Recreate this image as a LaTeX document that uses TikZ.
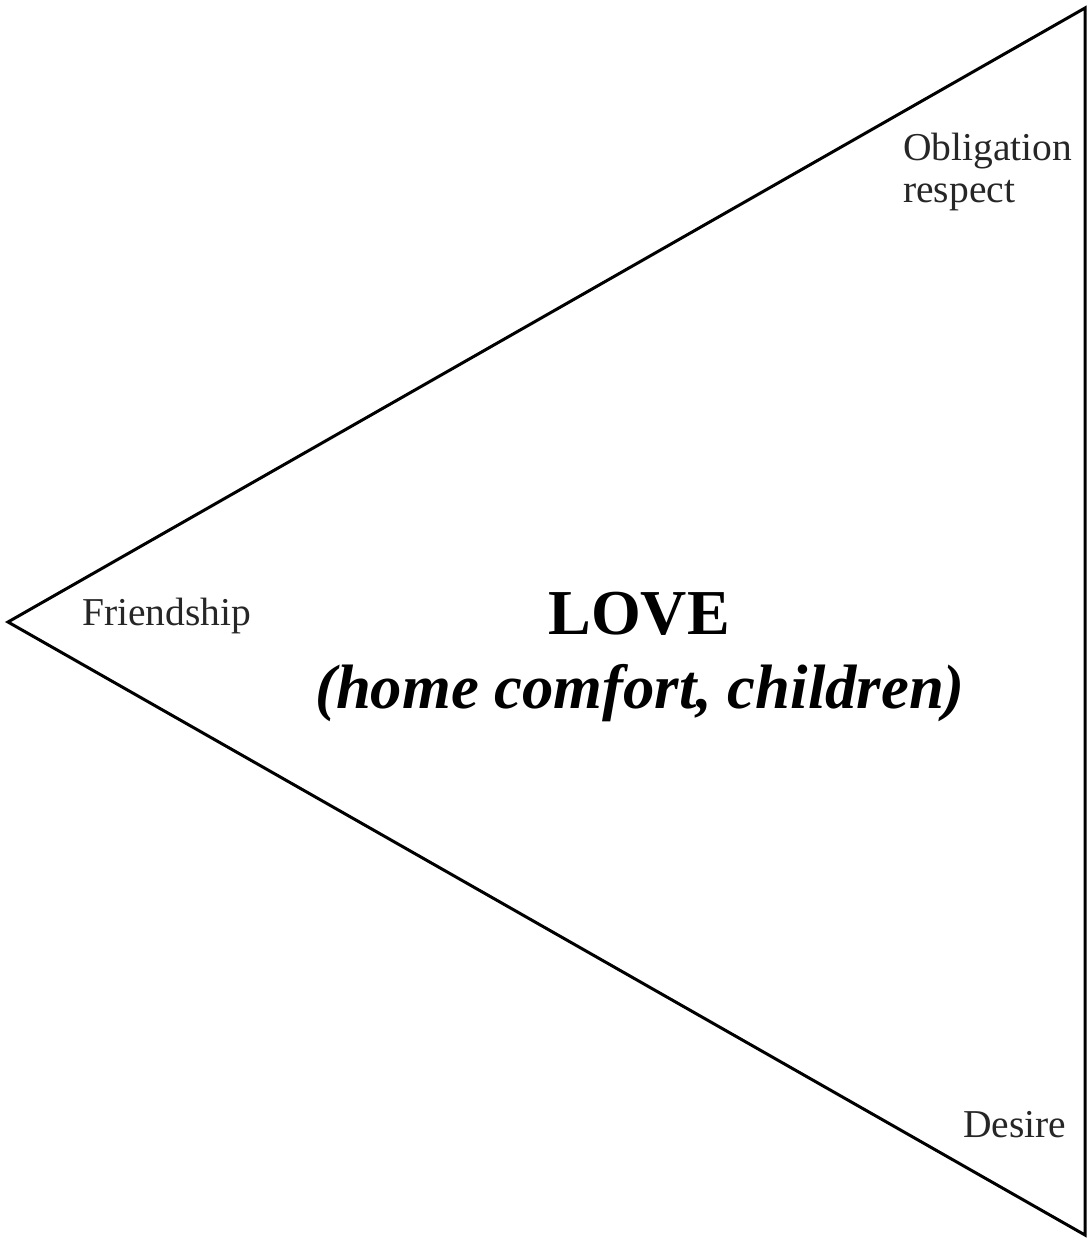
\documentclass[tikz,border=0pt]{standalone}
\usepackage{fontspec}
\setmainfont{Liberation Serif}
\begin{document}
\begin{tikzpicture}[x=1pt,y=-1pt,
  edge/.style={draw=black,line width=3pt,line join=miter},
  lbl/.style={inner sep=0pt,font=\fontsize{39.5}{42}\selectfont,text=black!85},
  title/.style={inner sep=0pt,font=\fontsize{64}{66}\selectfont\bfseries},
  sub/.style={inner sep=0pt,font=\fontsize{62.7}{66}\selectfont\bfseries\itshape}]
\useasboundingbox (0,0) rectangle (1090,1240);
\coordinate (L) at (8,622);
\coordinate (T) at (1085,8);
\coordinate (B) at (1085,1235);
\draw[edge] (L) -- (T) -- (B) -- cycle;
\node[lbl,anchor=base west] (obl) at (903,160) {Obligation};
\node[lbl,anchor=base west] (res) at (903,202) {respect};
\node[lbl,anchor=base west] (fri) at (82,625) {Friendship};
\node[lbl,anchor=base west] (des) at (963,1137) {Desire};
\node[title,anchor=base] (love) at (639,634) {LOVE};
\node[sub,anchor=base] (hc) at (640,708) {(home comfort, children)};
\end{tikzpicture}
\end{document}
